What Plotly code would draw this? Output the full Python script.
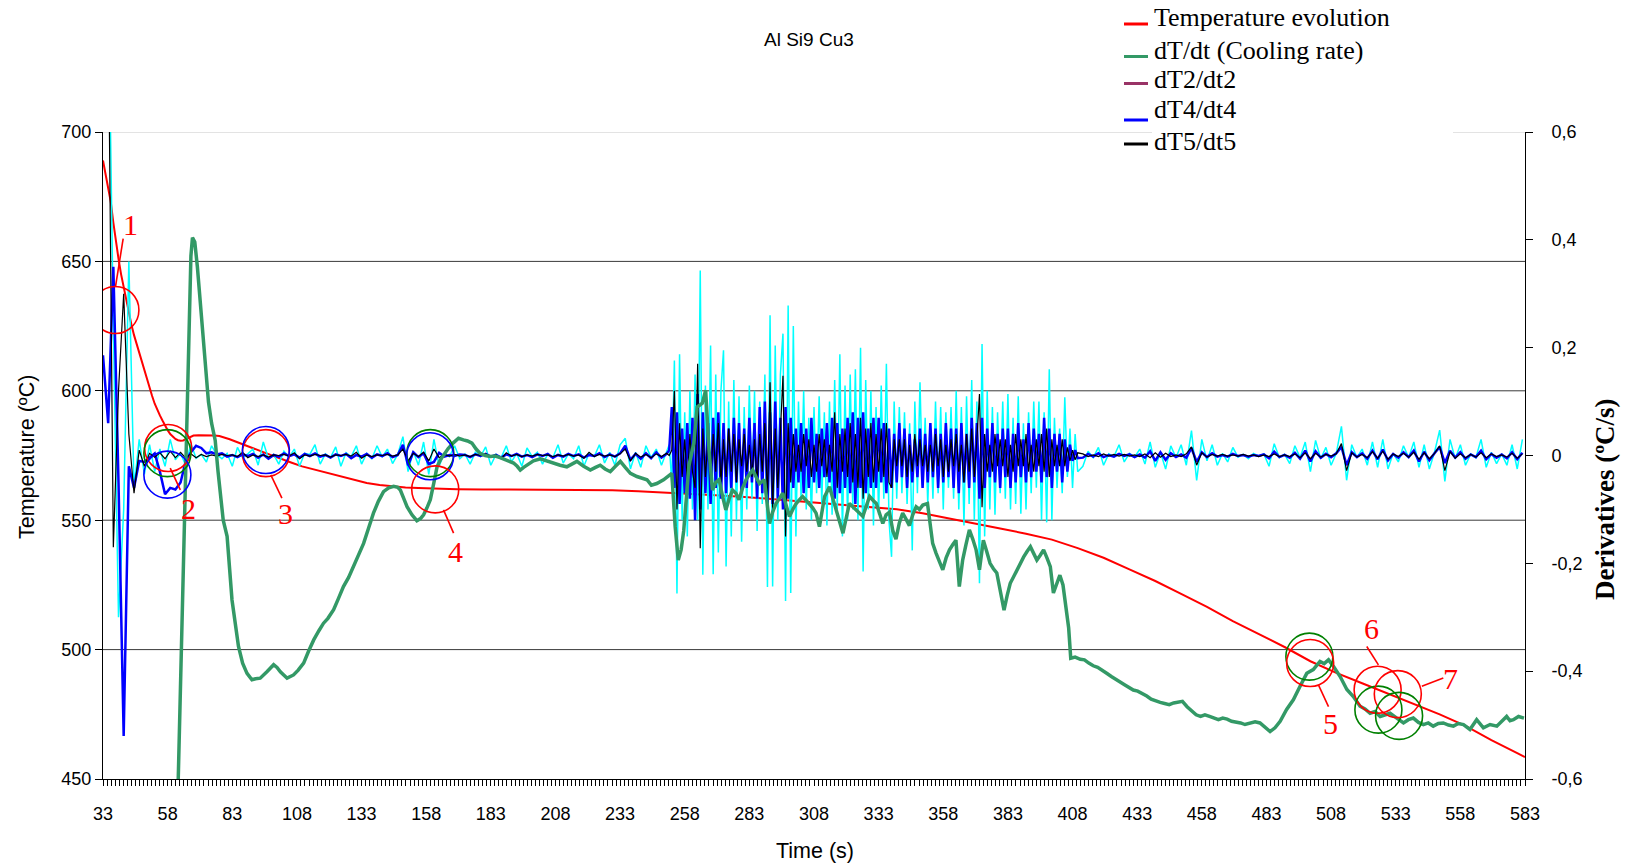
import plotly.graph_objects as go

# ---------------- data ----------------
# Temperature evolution (left axis, degC): (time s, T)
temp_tv = [(33,689),(34,684),(35,678.5),(36,673),(37,665),(38,657),(39,651),(40,645),(41,640),(42,635),
           (43,630),(44,625.5),(45,621.5),(46,618),(47,614.5),(48,611),(49,608),(50,604.5),(51,601),(52,598),
           (53,595),(54,592.5),(55,590.5),(56,588.5),(57,586.5),(58,584.8),(59,583.3),(60,582.2),(61,581.4),(62,580.9),
           (63,580.7),(64,580.8),(65,581.3),(66,582),(67,582.5),(68,582.7),(70,582.8),(72,582.8),(74,582.8),(76,582.7),
           (78,582.5),(80,582),(82,581.3),(84,580.5),(86,579.8),(88,579.1),(90,578.3),(92,577.5),(94,576.7),(96,575.9),
           (98,575.1),(100,574.3),(103,573.3),(106,572.2),(110,570.8),(115,569.5),(120,568),(125,566.7),(130,565.5),(135,564.4),
           (140,563.6),(145,563),(150,562.6),(155,562.4),(160,562.2),(170,562),(180,561.9),(200,561.8),(220,561.7),(230,561.6),
           (240,561.2),(250,560.6),(260,560.1),(270,559.6),(280,559.1),(290,558.3),(300,557.6),(310,556.8),(320,556),(330,555.2),
           (340,554.2),(350,552.7),(360,550.8),(370,548.8),(380,546.8),(390,544.8),(400,542.5),(410,539.2),(420,535.5),(430,531),
           (440,526.5),(450,521.5),(460,516.5),(470,511),(480,506),(490,501),(500,495.5),(510,491),(520,487),(530,483),
           (540,479),(550,475),(560,470.5),(570,465),(580,460),(583,458.5)]

# dT/dt cooling rate (right axis, degC/s): (time s, value)
green_tv = [(33,-1.3),(60.5,-1.3),(62,-0.62),(64,-0.2),(66,0.2),(67,0.37),(67.6,0.404),(68.5,0.396),(69.5,0.35),(71.3,0.242),
            (73,0.13),(73.8,0.099),(75,0.06),(76.4,0.028),(77.5,-0.03),(79.5,-0.12),(81,-0.15),(82.9,-0.268),(85.4,-0.354),(87,-0.385),
            (88.7,-0.404),(90.6,-0.416),(92,-0.414),(93.8,-0.413),(96.4,-0.401),(98,-0.392),(99,-0.388),(100.3,-0.393),(101.6,-0.401),(104.2,-0.413),
            (106.7,-0.407),(108.5,-0.398),(110.6,-0.385),(112.5,-0.363),(114.5,-0.342),(116.5,-0.325),(118.3,-0.311),(120,-0.302),(122.2,-0.286),(124,-0.266),
            (126,-0.243),(128,-0.226),(129.9,-0.206),(131.8,-0.186),(133.8,-0.163),(135.7,-0.135),(137.6,-0.107),(139.5,-0.085),(141.5,-0.067),(143.5,-0.06),
            (145.4,-0.057),(147,-0.059),(148,-0.064),(149.5,-0.082),(150.6,-0.095),(152.5,-0.11),(154.4,-0.121),(155.8,-0.117),(157,-0.11),(158.3,-0.097),
            (159.6,-0.082),(161,-0.05),(162.2,-0.021),(163.5,-0.008),(164.7,0.001),(166.5,0.013),(168.6,0.024),(170.5,0.032),(172.4,0.029),(174,0.027),
            (175.7,0.023),(177.3,0.012),(178.9,0.004),(180.8,0.0),(182.8,-0.002),(184.7,-0.001),(186.6,-0.004),(189,-0.009),(191.8,-0.014),(193.2,-0.02),
            (194.4,-0.027),(195.7,-0.022),(197,-0.018),(199.5,-0.01),(202.2,-0.006),(204.7,-0.01),(207.3,-0.015),(209.8,-0.018),(212.4,-0.021),(214.4,-0.015),
            (216.3,-0.011),(218.9,-0.02),(221.5,-0.027),(223.5,-0.022),(225.3,-0.018),(227.2,-0.025),(229.2,-0.03),(231.2,-0.02),(233.1,-0.011),(235,-0.022),
            (237,-0.033),(239.5,-0.039),(241.5,-0.042),(243.4,-0.045),(245.1,-0.055),(247.2,-0.052),(249.8,-0.045),(251.5,-0.038),(253,-0.033),(254.3,-0.132),
            (255.5,-0.194),(256.6,-0.175),(257.6,-0.14),(258.6,-0.08),(259.6,-0.02),(261.5,0.023),(262.8,0.09),(264.8,0.097),(266.1,0.121),(267.4,0.01),
            (268.7,-0.064),(270,-0.05),(271.3,-0.045),(272.6,-0.075),(273.9,-0.101),(275.2,-0.08),(276.5,-0.064),(277.8,-0.07),(279,-0.082),(280.4,-0.06),
            (281.7,-0.045),(283,-0.035),(284.3,-0.027),(285.6,-0.04),(286.9,-0.052),(288.8,-0.045),(290.8,-0.126),(292,-0.105),(293.3,-0.089),(294.6,-0.08),
            (295.9,-0.07),(297.2,-0.092),(298.5,-0.113),(299.8,-0.1),(301.1,-0.089),(302.4,-0.082),(303.6,-0.076),(304.9,-0.083),(306.2,-0.089),(307.5,-0.097),
            (308.8,-0.107),(310.1,-0.132),(312.1,-0.076),(314,-0.058),(315.3,-0.08),(316.6,-0.101),(317.9,-0.123),(319.2,-0.144),(320.5,-0.115),(321.7,-0.089),
            (323,-0.095),(324.3,-0.101),(325.6,-0.108),(326.9,-0.113),(328.2,-0.094),(329.5,-0.076),(330.8,-0.083),(332.1,-0.089),(333.4,-0.108),(334.6,-0.126),
            (335.9,-0.11),(337.2,-0.105),(338.5,-0.14),(339.7,-0.155),(341,-0.125),(342.3,-0.107),(343.6,-0.118),(344.9,-0.13),(346.2,-0.11),(347.5,-0.095),
            (348.8,-0.1),(350.1,-0.092),(351.9,-0.089),(353.9,-0.163),(355.2,-0.181),(356.5,-0.195),(357.8,-0.212),(359.1,-0.19),(360.4,-0.175),(361.7,-0.165),
            (362.9,-0.157),(364.2,-0.243),(365.5,-0.194),(366.8,-0.165),(368.1,-0.138),(369.4,-0.155),(370.7,-0.175),(372,-0.212),(373.5,-0.157),(374.8,-0.178),
            (376.1,-0.2),(377.4,-0.21),(378.7,-0.218),(380,-0.25),(381.5,-0.287),(382.7,-0.26),(383.9,-0.237),(385.2,-0.225),(386.5,-0.212),(387.8,-0.2),
            (389.1,-0.188),(390.4,-0.178),(391.7,-0.169),(393,-0.182),(394.2,-0.194),(395.5,-0.185),(396.8,-0.175),(398.1,-0.19),(399.4,-0.206),(400.6,-0.255),
            (401.8,-0.24),(403.1,-0.222),(404.3,-0.24),(405.5,-0.28),(406.5,-0.32),(407.3,-0.376),(409,-0.374),(411,-0.378),(412.6,-0.379),(414.3,-0.385),
            (416,-0.39),(417.7,-0.393),(419.5,-0.398),(421.2,-0.404),(423,-0.41),(424.7,-0.416),(426.4,-0.42),(428.1,-0.425),(429.8,-0.431),(431.5,-0.435),
            (433.2,-0.437),(435,-0.441),(436.7,-0.446),(438.4,-0.452),(440.2,-0.456),(441.9,-0.458),(443.6,-0.46),(445.4,-0.462),(447.1,-0.459),(448.8,-0.458),
            (450.5,-0.456),(452.3,-0.466),(454,-0.474),(455.8,-0.481),(457.5,-0.484),(459.2,-0.481),(461,-0.484),(462.7,-0.487),(464.4,-0.49),(466.1,-0.487),
            (467.8,-0.489),(469.5,-0.493),(471.2,-0.494),(473,-0.496),(474.7,-0.499),(476.7,-0.496),(478.6,-0.494),(480.5,-0.496),(482.4,-0.503),(484.4,-0.512),
            (486.3,-0.505),(488.3,-0.493),(490.8,-0.471),(493.4,-0.453),(496,-0.428),(498.6,-0.404),(501.1,-0.397),(503.7,-0.382),(505.3,-0.386),(507,-0.379),
            (508.9,-0.391),(511.5,-0.41),(514.1,-0.434),(516.6,-0.447),(519.2,-0.465),(521.1,-0.47),(523.1,-0.478),(525,-0.475),(527,-0.484),(529,-0.48),
            (530.8,-0.478),(533.4,-0.487),(536,-0.496),(537.9,-0.49),(539.8,-0.487),(541.8,-0.495),(543.7,-0.499),(545.6,-0.496),(547.5,-0.502),(549.5,-0.497),
            (551.4,-0.496),(553.4,-0.5),(555.3,-0.502),(557.2,-0.497),(559.2,-0.499),(561.7,-0.508),(564.3,-0.49),(566.9,-0.505),(569.5,-0.499),(572.1,-0.502),
            (574,-0.492),(575.9,-0.484),(577.2,-0.492),(578.5,-0.49),(580.5,-0.484),(582.6,-0.487)]

# sample times for the higher derivatives
t_quiet1 = list(range(33, 252, 2))    # 33..251
t_active = list(range(252, 411))      # 252..410
t_quiet2 = list(range(412, 583, 2))   # 412..582
deriv_t = t_quiet1 + t_active + t_quiet2

cyan_q1 = [0.9, 0.9, 0.24, -0.3, -0.1, 0.36, -0.06, 0.03, -0.035, 0.02,
           -0.03, 0.012, -0.02, 0.03, -0.008, 0.004, -0.018, 0.022, -0.005, 0.002,
           -0.012, 0.018, 0.002, -0.006, 0.004, -0.02, 0.015, -0.004, 0.003, 0.012,
           -0.018, 0.025, -0.006, 0.002, -0.016, 0.008, -0.003, 0.012, -0.02, 0.004,
           0.002, 0.02, -0.016, 0.003, -0.004, 0.016, -0.02, 0.005, -0.002, 0.018,
           -0.016, 0.004, -0.006, 0.018, -0.003, 0.012, -0.015, 0.002, 0.035, -0.03,
           0.008, -0.018, 0.025, -0.035, 0.03, -0.02, 0.004, -0.002, 0.018, -0.006,
           0.003, -0.016, 0.006, -0.002, 0.016, -0.018, 0.002, -0.004, 0.018, -0.012,
           0.004, -0.02, 0.014, -0.002, 0.006, -0.016, 0.002, -0.004, 0.02, -0.014,
           0.003, -0.006, 0.018, -0.02, 0.004, -0.002, 0.02, -0.014, 0.006, -0.018,
           0.02, 0.032, -0.025, 0.006, -0.022, 0.018, -0.004, 0.012, -0.018, 0.01]
cyan_act = [0.02, -0.05, 0.176, -0.256, 0.188, -0.12, 0.08, -0.15, 0.12, -0.1,
            0.15, -0.12, 0.343, -0.221, 0.13, -0.1, 0.204, -0.22, 0.15, -0.18,
            0.12, 0.195, -0.206, 0.1, -0.15, 0.14, -0.12, 0.11, -0.16, 0.09,
            -0.1, 0.13, -0.08, 0.12, -0.14, 0.1, -0.09, 0.15, -0.244, 0.26,
            -0.243, 0.204, -0.12, 0.15, 0.226, -0.27, 0.278, -0.255, 0.24, -0.15,
            0.1, -0.08, 0.12, -0.1, 0.07, -0.12, 0.09, -0.07, 0.11, -0.09,
            0.08, -0.13, 0.1, -0.11, 0.14, -0.1, 0.188, -0.15, 0.13, -0.12,
            0.15, -0.1, 0.16, -0.12, 0.2, -0.215, 0.14, -0.1, 0.12, -0.13,
            0.09, -0.11, 0.13, -0.08, 0.17, -0.12, -0.188, 0.1, -0.08, 0.09,
            -0.07, 0.08, -0.09, 0.06, -0.176, 0.1, -0.07, 0.136, -0.06, 0.07,
            -0.09, 0.06, -0.08, 0.1, -0.07, 0.09, -0.1, 0.08, -0.06, 0.09,
            -0.08, 0.12, -0.1, 0.09, -0.13, 0.11, -0.09, 0.14, -0.12, 0.1,
            -0.237, 0.207, -0.15, 0.12, -0.1, 0.09, -0.11, 0.08, -0.07, 0.1,
            -0.08, 0.114, -0.1, 0.07, -0.09, 0.11, -0.108, 0.06, -0.1, 0.08,
            -0.07, 0.1, -0.06, 0.1, -0.12, 0.08, -0.124, 0.16, -0.12, 0.07,
            -0.06, 0.05, -0.07, 0.108, -0.04, 0.05, -0.06, 0.04, -0.03]
cyan_q2 = [-0.02, 0.008, -0.004, 0.015, -0.018, 0.003, -0.002, 0.02, -0.012, 0.004,
           -0.003, 0.012, -0.016, 0.025, -0.022, 0.006, -0.025, 0.018, -0.004, 0.02,
           -0.018, 0.046, -0.046, 0.03, -0.01, 0.02, -0.018, 0.004, -0.012, 0.015,
           -0.003, 0.002, -0.006, 0.004, -0.001, 0.003, -0.02, 0.022, -0.004, 0.002,
           -0.015, 0.018, -0.004, 0.025, -0.03, 0.028, -0.006, 0.015, -0.018, 0.004,
           0.054, -0.046, 0.02, -0.004, 0.012, -0.018, 0.025, -0.022, 0.03, -0.025,
           0.004, -0.012, 0.018, -0.004, 0.025, -0.022, 0.02, -0.025, 0.006, 0.047,
           -0.048, 0.03, -0.006, 0.02, -0.018, 0.003, -0.004, 0.03, -0.022, 0.006,
           -0.015, 0.003, -0.018, 0.02, -0.025, 0.03]

blue_q1 = [0.186, 0.06, 0.35, -0.05, -0.52, -0.02, -0.06, -0.01, -0.012, -0.004,
           0.004, -0.03, -0.072, -0.06, -0.063, -0.05, -0.01, 0.006, 0.018, 0.014,
           0.004, 0.006, 0.002, 0.004, -0.002, 0.001, -0.003, 0.002, -0.001, 0.003,
           -0.004, 0.002, -0.006, 0.001, -0.002, 0.004, -0.001, 0.002, -0.004, 0.003,
           -0.001, 0.004, -0.002, 0.001, -0.004, 0.002, -0.001, 0.003, -0.005, 0.001,
           -0.002, 0.003, -0.004, 0.002, -0.001, 0.004, -0.003, 0.001, 0.02, -0.018,
           0.006, -0.003, 0.004, -0.016, -0.012, 0.005, -0.002, 0.001, -0.001, 0.002,
           0.001, -0.003, 0.002, -0.001, 0.003, -0.002, 0.001, -0.004, 0.002, -0.001,
           0.003, -0.002, 0.001, -0.003, 0.002, -0.001, 0.003, -0.004, 0.001, -0.002,
           0.003, -0.001, 0.002, -0.004, 0.001, -0.001, 0.004, -0.003, 0.002, -0.002,
           0.004, 0.018, -0.008, 0.003, -0.006, 0.004, -0.005, 0.006, -0.004, 0.003]
blue_act = [0.01, 0.09, -0.06, 0.08, -0.09, 0.05, -0.07, 0.06, -0.08, 0.07,
            -0.12, 0.114, -0.1, 0.08, -0.07, 0.06, -0.09, 0.07, -0.06, 0.08,
            -0.08, 0.06, -0.07, 0.05, -0.06, 0.07, -0.05, 0.06, -0.07, 0.05,
            -0.06, 0.07, -0.05, 0.06, -0.08, 0.09, -0.07, 0.1, -0.1, 0.08,
            -0.09, 0.1, -0.08, 0.07, -0.1, 0.09, -0.08, 0.07, -0.06, 0.05,
            -0.05, 0.06, -0.07, 0.05, -0.06, 0.07, -0.05, 0.04, -0.06, 0.05,
            -0.04, 0.06, -0.05, 0.07, -0.08, 0.06, -0.07, 0.05, -0.06, 0.07,
            -0.07, 0.08, -0.09, 0.07, -0.06, 0.08, -0.07, 0.05, -0.06, 0.07,
            -0.06, 0.07, -0.05, 0.06, -0.07, 0.05, -0.06, 0.04, -0.05, 0.06,
            -0.04, 0.05, -0.06, 0.04, -0.05, 0.03, -0.04, 0.05, -0.06, 0.04,
            -0.05, 0.06, -0.04, 0.05, -0.06, 0.04, -0.05, 0.06, -0.04, 0.05,
            -0.06, 0.05, -0.07, 0.06, -0.05, 0.04, -0.06, 0.07, -0.05, 0.06,
            -0.08, 0.07, -0.06, 0.05, -0.04, 0.06, -0.05, 0.04, -0.06, 0.05,
            -0.04, 0.05, -0.06, 0.04, -0.05, 0.06, -0.04, 0.03, -0.05, 0.06,
            -0.04, 0.05, -0.03, 0.04, -0.05, 0.07, -0.04, 0.05, -0.06, 0.04,
            -0.03, 0.04, -0.05, 0.03, -0.03, 0.02, -0.01, 0.01, -0.005]
blue_q2 = [-0.004, 0.003, -0.002, 0.004, -0.003, 0.001, -0.002, 0.003, -0.001, 0.002,
           -0.003, 0.002, -0.004, 0.008, -0.01, 0.006, -0.008, 0.004, -0.003, 0.002,
           -0.004, 0.014, -0.012, 0.006, -0.003, 0.004, -0.002, 0.001, -0.002, 0.003,
           -0.001, 0.001, -0.002, 0.001, -0.001, 0.002, -0.005, 0.007, -0.003, 0.001,
           -0.004, 0.005, -0.006, 0.009, -0.011, 0.008, -0.004, 0.003, -0.003, 0.004,
           0.016, -0.018, 0.006, -0.003, 0.004, -0.006, 0.009, -0.007, 0.011, -0.009,
           0.003, -0.004, 0.006, -0.003, 0.009, -0.011, 0.007, -0.009, 0.004, 0.016,
           -0.014, 0.009, -0.004, 0.006, -0.006, 0.002, -0.003, 0.009, -0.007, 0.003,
           -0.004, 0.002, -0.005, 0.006, -0.007, 0.005]

black_q1 = [0.9, 0.85, -0.17, 0.12, 0.3, 0.04, -0.07, 0.01, -0.02, 0.004,
            -0.003, 0.005, -0.006, 0.008, -0.004, 0.006, -0.005, 0.003, -0.004, 0.002,
            -0.002, 0.001, -0.001, 0.002, 0.0, 0.001, -0.002, 0.006, -0.004, 0.001,
            -0.002, 0.001, -0.003, 0.001, 0.0, 0.002, -0.001, 0.005, -0.006, 0.001,
            -0.001, 0.002, 0.0, 0.001, -0.003, 0.001, 0.0, 0.002, -0.001, 0.006,
            -0.005, 0.001, -0.002, 0.001, 0.0, 0.002, -0.001, 0.001, 0.012, -0.01,
            0.004, -0.002, 0.006, -0.01, 0.012, -0.004, 0.002, -0.001, 0.002, -0.001,
            0.001, -0.002, 0.002, 0.0, 0.003, -0.002, 0.001, -0.006, 0.005, -0.001,
            0.002, -0.002, 0.001, -0.001, 0.002, 0.0, 0.001, -0.002, 0.001, -0.001,
            0.002, -0.001, 0.001, -0.005, 0.006, -0.002, 0.002, -0.001, 0.001, -0.002,
            0.003, 0.012, -0.01, 0.004, -0.003, 0.002, -0.004, 0.003, -0.002, 0.004]
black_act = [0.0, 0.01, 0.12, -0.1, 0.06, -0.04, 0.03, -0.05, 0.04, -0.03,
             -0.06, 0.17, -0.172, 0.05, -0.04, 0.03, -0.05, 0.04, -0.03, 0.06,
             -0.05, 0.03, -0.04, 0.05, -0.03, 0.04, -0.05, 0.03, -0.02, 0.04,
             -0.03, 0.02, -0.04, 0.03, -0.05, 0.04, -0.03, 0.06, -0.08, 0.136,
             -0.1, 0.05, -0.06, 0.04, 0.148, -0.15, 0.06, -0.05, 0.04, -0.03,
             0.02, -0.03, 0.04, -0.02, 0.03, -0.04, 0.02, -0.03, 0.04, -0.02,
             0.03, -0.04, 0.02, -0.03, 0.08, -0.06, 0.04, -0.03, 0.05, -0.04,
             0.06, -0.05, 0.04, -0.06, 0.07, -0.08, 0.05, -0.04, 0.06, -0.05,
             0.04, -0.03, 0.05, -0.04, 0.06, -0.05, -0.06, 0.03, -0.02, 0.03,
             -0.02, 0.03, -0.04, 0.02, -0.03, 0.04, -0.02, 0.03, -0.02, 0.02,
             -0.03, 0.02, -0.03, 0.04, -0.02, 0.03, -0.04, 0.02, -0.03, 0.03,
             -0.02, 0.04, -0.03, 0.02, -0.05, 0.04, -0.03, 0.05, -0.04, 0.03,
             0.114, -0.096, 0.04, -0.03, 0.02, -0.03, 0.04, -0.02, 0.03, -0.02,
             0.03, -0.04, 0.02, -0.03, 0.04, -0.02, 0.03, -0.02, 0.04, -0.03,
             0.02, -0.03, 0.03, -0.02, 0.04, -0.03, 0.05, -0.04, 0.03, -0.02,
             0.02, -0.02, 0.03, -0.02, 0.015, -0.01, 0.01, -0.008, 0.005]
black_q2 = [0.003, -0.002, 0.001, -0.002, 0.003, -0.001, 0.002, -0.001, 0.002, -0.001,
            0.001, -0.002, 0.003, -0.004, 0.005, -0.003, 0.004, -0.002, 0.001, -0.002,
            0.003, 0.016, -0.018, 0.005, -0.003, 0.002, -0.001, 0.002, -0.001, 0.001,
            -0.001, 0.002, -0.001, 0.001, -0.002, 0.001, -0.002, 0.003, -0.002, 0.001,
            -0.002, 0.003, -0.004, 0.005, -0.006, 0.004, -0.003, 0.002, -0.001, 0.003,
            0.022, -0.028, 0.005, -0.003, 0.002, -0.004, 0.007, -0.005, 0.008, -0.007,
            0.003, -0.002, 0.004, -0.003, 0.006, -0.007, 0.005, -0.006, 0.004, 0.018,
            -0.028, 0.007, -0.005, 0.003, -0.004, 0.002, -0.003, 0.005, -0.004, 0.003,
            -0.002, 0.001, -0.003, 0.004, -0.005, 0.003]

cyan_v = cyan_q1 + cyan_act + cyan_q2
blue_v = blue_q1 + blue_act + blue_q2
black_v = black_q1 + black_act + black_q2

x_ticks = list(range(33, 584, 25))
yl_ticks = [450, 500, 550, 600, 650, 700]
yr_ticks = [-0.6, -0.4, -0.2, 0, 0.2, 0.4, 0.6]
yr_text = ["-0,6", "-0,4", "-0,2", "0", "0,2", "0,4", "0,6"]

legend_names = ["Temperature evolution", "dT/dt (Cooling rate)", "dT2/dt2", "dT4/dt4", "dT5/dt5"]
legend_colors = ["#FF0000", "#339966", "#993366", "#0000FF", "#000000"]

# marked events: (label, label t, label T, leader t0,T0,t1,T1, circles [(t,T,color)])
events = [
    ("1", 43.7, 664.4, 40.8, 658.8, 37.8, 640.1, [(37.8, 631.2, "#FF0000")]),
    ("2", 66.1, 554.5, 59.0, 570.1, 62.9, 561.7, [(58.2, 577.9, "#FF0000"), (57.9, 575.9, "#008000"), (57.9, 567.6, "#0000FF")]),
    ("3", 103.5, 552.7, 97.9, 567.5, 102.2, 558.5, [(96.0, 575.9, "#FF0000"), (96.0, 577.1, "#0000FF")]),
    ("4", 169.2, 537.8, 164.7, 554.0, 168.6, 545.0, [(159.6, 575.9, "#008000"), (159.5, 574.7, "#0000FF"), (161.5, 561.9, "#FF0000")]),
    ("5", 507.6, 471.6, 503.1, 486.4, 507.0, 478.0, [(499.6, 497.3, "#008000"), (499.9, 494.8, "#FF0000")]),
    ("6", 523.7, 508.3, 521.8, 501.2, 526.3, 494.1, [(526.0, 484.5, "#FF0000"), (526.3, 476.8, "#008000")]),
    ("7", 554.0, 489.0, 551.4, 489.0, 543.1, 485.8, [(533.8, 482.8, "#FF0000"), (534.3, 474.4, "#008000")]),
]

# ---------------- figure ----------------
W, H = 1627, 864
SL, ST, PW, PH = 103, 132, 1422, 647   # plot area in page pixels
L = SL
T = ST
R = W - L - PW
B = H - T - PH

def px2paper_x(px):
    return (px - SL) / PW

def px2paper_y(py):
    return (ST + PH - py) / PH

fig = go.Figure()

fig.add_trace(go.Scatter(x=deriv_t, y=cyan_v, yaxis="y2", mode="lines", name="dT3/dt3",
                         line=dict(color="#00FFFF", width=1.5), showlegend=False))
fig.add_trace(go.Scatter(x=[300], y=[0], yaxis="y2", mode="lines", name="dT2/dt2",
                         line=dict(color="#993366", width=2.5), showlegend=False))
fig.add_trace(go.Scatter(x=deriv_t, y=blue_v, yaxis="y2", mode="lines", name="dT4/dt4",
                         line=dict(color="#0000FF", width=2.5), showlegend=False))
fig.add_trace(go.Scatter(x=deriv_t, y=black_v, yaxis="y2", mode="lines", name="dT5/dt5",
                         line=dict(color="#000000", width=1.2), showlegend=False))
fig.add_trace(go.Scatter(x=[p[0] for p in green_tv], y=[p[1] for p in green_tv], yaxis="y2",
                         mode="lines", name="dT/dt (Cooling rate)",
                         line=dict(color="#339966", width=3.5), showlegend=False))
fig.add_trace(go.Scatter(x=[p[0] for p in temp_tv], y=[p[1] for p in temp_tv], yaxis="y",
                         mode="lines", name="Temperature evolution",
                         line=dict(color="#FF0000", width=2), showlegend=False))

shapes = []
# horizontal grid lines
for g in [500, 550, 600, 650]:
    shapes.append(dict(type="line", xref="paper", yref="y", x0=0, x1=1, y0=g, y1=g,
                       line=dict(color="#3a3a3a", width=1), layer="below"))
# top line (partly hidden by the legend box)
shapes.append(dict(type="line", xref="paper", yref="y", x0=0, x1=px2paper_x(1152), y0=700, y1=700,
                   line=dict(color="#c8c8c8", width=1), layer="below"))
shapes.append(dict(type="line", xref="paper", yref="y", x0=px2paper_x(1453), x1=1, y0=700, y1=700,
                   line=dict(color="#c8c8c8", width=1), layer="below"))

annotations = []
RAD = 23.5
for lab, lt, lT, a0, b0, a1, b1, circles in events:
    for (ct, cT, col) in circles:
        shapes.append(dict(type="circle", xref="x", yref="y", xsizemode="pixel", ysizemode="pixel",
                           xanchor=ct, yanchor=cT, x0=-RAD, x1=RAD, y0=-RAD, y1=RAD,
                           line=dict(color=col, width=1.6), layer="above"))
    shapes.append(dict(type="line", xref="x", yref="y", x0=a0, y0=b0, x1=a1, y1=b1,
                       line=dict(color="#FF0000", width=1.6), layer="above"))
    annotations.append(dict(x=lt, y=lT, xref="x", yref="y", text=lab, showarrow=False,
                            xanchor="center", yanchor="middle",
                            font=dict(family="Liberation Serif", size=30, color="#FF0000")))

# legend (drawn by hand: short sample line + text)
leg_text_y = [17.8, 50.7, 79.7, 109.7, 141.4]
leg_line_y = [24, 56.5, 83.5, 120, 144]
for name, col, ty, ly in zip(legend_names, legend_colors, leg_text_y, leg_line_y):
    shapes.append(dict(type="line", xref="paper", yref="paper",
                       x0=px2paper_x(1124), x1=px2paper_x(1148), y0=px2paper_y(ly), y1=px2paper_y(ly),
                       line=dict(color=col, width=3)))
    annotations.append(dict(x=px2paper_x(1152), y=px2paper_y(ty), xref="paper", yref="paper",
                            xanchor="left", yanchor="middle", text=name, showarrow=False,
                            font=dict(family="Liberation Serif", size=26, color="black")))

# titles
annotations.append(dict(x=px2paper_x(809), y=px2paper_y(39), xref="paper", yref="paper",
                        xanchor="center", yanchor="middle",
                        text="Al Si9 Cu3", showarrow=False,
                        font=dict(family="Liberation Sans", size=19, color="black")))
annotations.append(dict(x=px2paper_x(27), y=px2paper_y(457), xref="paper", yref="paper",
                        xanchor="center", yanchor="middle",
                        text="Temperature (ºC)", textangle=-90, showarrow=False,
                        font=dict(family="Liberation Sans", size=21.5, color="black")))
annotations.append(dict(x=px2paper_x(1605), y=px2paper_y(499), xref="paper", yref="paper",
                        xanchor="center", yanchor="middle",
                        text="<b>Derivatives (ºC/s)</b>", textangle=-90, showarrow=False,
                        font=dict(family="Liberation Serif", size=27, color="black")))
annotations.append(dict(x=px2paper_x(815), y=px2paper_y(851), xref="paper", yref="paper",
                        xanchor="center", yanchor="middle",
                        text="Time (s)", showarrow=False,
                        font=dict(family="Liberation Sans", size=21.5, color="black")))

tickfont = dict(family="Liberation Sans", size=18, color="black")

fig.update_layout(
    width=W, height=H,
    margin=dict(l=L, r=R, t=T, b=B, autoexpand=False),
    paper_bgcolor="white", plot_bgcolor="white",
    showlegend=False,
    xaxis=dict(range=[33, 583], tickvals=x_ticks, ticks="outside", ticklen=6, tickcolor="black",
               showline=True, linecolor="black", linewidth=1, showgrid=False, zeroline=False,
               tickfont=tickfont, automargin=False, ticklabelstandoff=12,
               minor=dict(tick0=33, dtick=25/16, ticks="outside", ticklen=6, tickcolor="black",
                          showgrid=False)),
    yaxis=dict(range=[450, 700], tickvals=yl_ticks, ticks="outside", ticklen=7, tickcolor="black",
               showline=True, linecolor="black", linewidth=1, showgrid=False, zeroline=False,
               tickfont=tickfont, automargin=False),
    yaxis2=dict(range=[-0.6, 0.6], tickvals=yr_ticks, ticktext=yr_text, overlaying="y", side="right",
                anchor="x", ticks="outside", ticklen=7, tickcolor="black", showline=True,
                linecolor="black", linewidth=1, showgrid=False, zeroline=False, tickfont=tickfont,
                automargin=False, ticklabelstandoff=15),
    yaxis3=dict(range=[-0.6, 0.6], tickvals=yr_ticks, overlaying="y", side="right", anchor="x",
                ticks="inside", ticklen=7, tickcolor="black", showline=False, showgrid=False,
                zeroline=False, showticklabels=False, automargin=False),
    shapes=shapes,
    annotations=annotations,
)

# remove the default 8px page margin so the figure fills the window exactly; no mode bar
fig.write_html("out.html", config={"displayModeBar": False},
               post_script="document.body.style.margin='0px';")
